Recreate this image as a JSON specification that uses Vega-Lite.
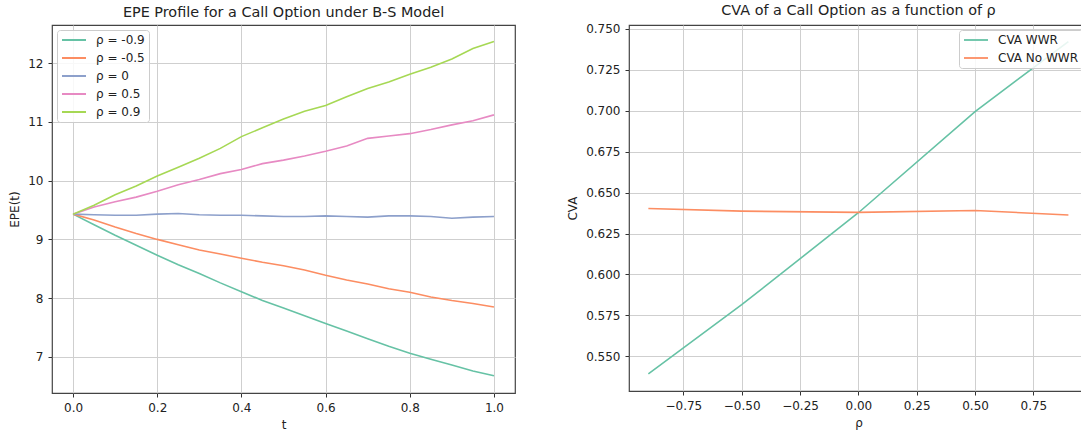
{
  "$schema": "https://vega.github.io/schema/vega-lite/v6.json",
  "padding": {"left": 8, "top": 1, "right": 0, "bottom": 0},
  "spacing": 50,
  "datasets": {
    "epe": [
      {"t": 0, "s": "ρ = -0.9", "v": 9.43}, {"t": 0.05, "s": "ρ = -0.9", "v": 9.25}, {"t": 0.1, "s": "ρ = -0.9", "v": 9.07}, {"t": 0.15, "s": "ρ = -0.9", "v": 8.9}, {"t": 0.2, "s": "ρ = -0.9", "v": 8.73}, {"t": 0.25, "s": "ρ = -0.9", "v": 8.57}, {"t": 0.3, "s": "ρ = -0.9", "v": 8.42}, {"t": 0.35, "s": "ρ = -0.9", "v": 8.26}, {"t": 0.4, "s": "ρ = -0.9", "v": 8.11}, {"t": 0.45, "s": "ρ = -0.9", "v": 7.96}, {"t": 0.5, "s": "ρ = -0.9", "v": 7.83}, {"t": 0.55, "s": "ρ = -0.9", "v": 7.7}, {"t": 0.6, "s": "ρ = -0.9", "v": 7.57}, {"t": 0.65, "s": "ρ = -0.9", "v": 7.44}, {"t": 0.7, "s": "ρ = -0.9", "v": 7.31}, {"t": 0.75, "s": "ρ = -0.9", "v": 7.18}, {"t": 0.8, "s": "ρ = -0.9", "v": 7.06}, {"t": 0.85, "s": "ρ = -0.9", "v": 6.96}, {"t": 0.9, "s": "ρ = -0.9", "v": 6.86}, {"t": 0.95, "s": "ρ = -0.9", "v": 6.76}, {"t": 1.0, "s": "ρ = -0.9", "v": 6.68},
      {"t": 0, "s": "ρ = -0.5", "v": 9.43}, {"t": 0.05, "s": "ρ = -0.5", "v": 9.33}, {"t": 0.1, "s": "ρ = -0.5", "v": 9.21}, {"t": 0.15, "s": "ρ = -0.5", "v": 9.1}, {"t": 0.2, "s": "ρ = -0.5", "v": 9.0}, {"t": 0.25, "s": "ρ = -0.5", "v": 8.91}, {"t": 0.3, "s": "ρ = -0.5", "v": 8.82}, {"t": 0.35, "s": "ρ = -0.5", "v": 8.75}, {"t": 0.4, "s": "ρ = -0.5", "v": 8.68}, {"t": 0.45, "s": "ρ = -0.5", "v": 8.61}, {"t": 0.5, "s": "ρ = -0.5", "v": 8.55}, {"t": 0.55, "s": "ρ = -0.5", "v": 8.48}, {"t": 0.6, "s": "ρ = -0.5", "v": 8.39}, {"t": 0.65, "s": "ρ = -0.5", "v": 8.31}, {"t": 0.7, "s": "ρ = -0.5", "v": 8.24}, {"t": 0.75, "s": "ρ = -0.5", "v": 8.16}, {"t": 0.8, "s": "ρ = -0.5", "v": 8.1}, {"t": 0.85, "s": "ρ = -0.5", "v": 8.02}, {"t": 0.9, "s": "ρ = -0.5", "v": 7.96}, {"t": 0.95, "s": "ρ = -0.5", "v": 7.91}, {"t": 1.0, "s": "ρ = -0.5", "v": 7.85},
      {"t": 0, "s": "ρ = 0", "v": 9.43}, {"t": 0.05, "s": "ρ = 0", "v": 9.42}, {"t": 0.1, "s": "ρ = 0", "v": 9.41}, {"t": 0.15, "s": "ρ = 0", "v": 9.41}, {"t": 0.2, "s": "ρ = 0", "v": 9.43}, {"t": 0.25, "s": "ρ = 0", "v": 9.44}, {"t": 0.3, "s": "ρ = 0", "v": 9.42}, {"t": 0.35, "s": "ρ = 0", "v": 9.41}, {"t": 0.4, "s": "ρ = 0", "v": 9.41}, {"t": 0.45, "s": "ρ = 0", "v": 9.4}, {"t": 0.5, "s": "ρ = 0", "v": 9.39}, {"t": 0.55, "s": "ρ = 0", "v": 9.39}, {"t": 0.6, "s": "ρ = 0", "v": 9.4}, {"t": 0.65, "s": "ρ = 0", "v": 9.39}, {"t": 0.7, "s": "ρ = 0", "v": 9.38}, {"t": 0.75, "s": "ρ = 0", "v": 9.4}, {"t": 0.8, "s": "ρ = 0", "v": 9.4}, {"t": 0.85, "s": "ρ = 0", "v": 9.39}, {"t": 0.9, "s": "ρ = 0", "v": 9.36}, {"t": 0.95, "s": "ρ = 0", "v": 9.38}, {"t": 1.0, "s": "ρ = 0", "v": 9.39},
      {"t": 0, "s": "ρ = 0.5", "v": 9.43}, {"t": 0.05, "s": "ρ = 0.5", "v": 9.55}, {"t": 0.1, "s": "ρ = 0.5", "v": 9.64}, {"t": 0.15, "s": "ρ = 0.5", "v": 9.72}, {"t": 0.2, "s": "ρ = 0.5", "v": 9.82}, {"t": 0.25, "s": "ρ = 0.5", "v": 9.93}, {"t": 0.3, "s": "ρ = 0.5", "v": 10.02}, {"t": 0.35, "s": "ρ = 0.5", "v": 10.12}, {"t": 0.4, "s": "ρ = 0.5", "v": 10.19}, {"t": 0.45, "s": "ρ = 0.5", "v": 10.29}, {"t": 0.5, "s": "ρ = 0.5", "v": 10.35}, {"t": 0.55, "s": "ρ = 0.5", "v": 10.42}, {"t": 0.6, "s": "ρ = 0.5", "v": 10.5}, {"t": 0.65, "s": "ρ = 0.5", "v": 10.59}, {"t": 0.7, "s": "ρ = 0.5", "v": 10.72}, {"t": 0.75, "s": "ρ = 0.5", "v": 10.76}, {"t": 0.8, "s": "ρ = 0.5", "v": 10.8}, {"t": 0.85, "s": "ρ = 0.5", "v": 10.87}, {"t": 0.9, "s": "ρ = 0.5", "v": 10.95}, {"t": 0.95, "s": "ρ = 0.5", "v": 11.02}, {"t": 1.0, "s": "ρ = 0.5", "v": 11.12},
      {"t": 0, "s": "ρ = 0.9", "v": 9.43}, {"t": 0.05, "s": "ρ = 0.9", "v": 9.58}, {"t": 0.1, "s": "ρ = 0.9", "v": 9.76}, {"t": 0.15, "s": "ρ = 0.9", "v": 9.91}, {"t": 0.2, "s": "ρ = 0.9", "v": 10.08}, {"t": 0.25, "s": "ρ = 0.9", "v": 10.23}, {"t": 0.3, "s": "ρ = 0.9", "v": 10.38}, {"t": 0.35, "s": "ρ = 0.9", "v": 10.55}, {"t": 0.4, "s": "ρ = 0.9", "v": 10.75}, {"t": 0.45, "s": "ρ = 0.9", "v": 10.9}, {"t": 0.5, "s": "ρ = 0.9", "v": 11.05}, {"t": 0.55, "s": "ρ = 0.9", "v": 11.18}, {"t": 0.6, "s": "ρ = 0.9", "v": 11.28}, {"t": 0.65, "s": "ρ = 0.9", "v": 11.43}, {"t": 0.7, "s": "ρ = 0.9", "v": 11.57}, {"t": 0.75, "s": "ρ = 0.9", "v": 11.68}, {"t": 0.8, "s": "ρ = 0.9", "v": 11.81}, {"t": 0.85, "s": "ρ = 0.9", "v": 11.93}, {"t": 0.9, "s": "ρ = 0.9", "v": 12.07}, {"t": 0.95, "s": "ρ = 0.9", "v": 12.25}, {"t": 1.0, "s": "ρ = 0.9", "v": 12.37}
    ],
    "cva": [
      {"rho": -0.9, "series": "CVA WWR", "cva": 0.5393}, {"rho": -0.5, "series": "CVA WWR", "cva": 0.5815}, {"rho": 0, "series": "CVA WWR", "cva": 0.6377}, {"rho": 0.5, "series": "CVA WWR", "cva": 0.6995}, {"rho": 0.9, "series": "CVA WWR", "cva": 0.7423},
      {"rho": -0.9, "series": "CVA No WWR", "cva": 0.6403}, {"rho": -0.5, "series": "CVA No WWR", "cva": 0.6387}, {"rho": 0, "series": "CVA No WWR", "cva": 0.6379}, {"rho": 0.5, "series": "CVA No WWR", "cva": 0.6391}, {"rho": 0.9, "series": "CVA No WWR", "cva": 0.6363}
    ]
  },
  "hconcat": [
    {
      "width": 463,
      "height": 368,
      "title": "EPE Profile for a Call Option under B-S Model",
      "data": {"name": "epe"},
      "mark": {"type": "line", "strokeWidth": 1.6},
      "encoding": {
        "x": {"field": "t", "type": "quantitative", "scale": {"domain": [-0.05, 1.05], "nice": false, "zero": false}, "axis": {"values": [0, 0.2, 0.4, 0.6, 0.8, 1], "format": ".1f", "title": "t"}},
        "y": {"field": "v", "type": "quantitative", "scale": {"domain": [6.385, 12.65], "nice": false, "zero": false}, "axis": {"values": [7, 8, 9, 10, 11, 12], "format": "d", "title": "EPE(t)"}},
        "color": {"field": "s", "type": "nominal", "scale": {"domain": ["ρ = -0.9", "ρ = -0.5", "ρ = 0", "ρ = 0.5", "ρ = 0.9"], "range": ["#66c2a5", "#fc8d62", "#8da0cb", "#e78ac3", "#a6d854"]}, "legend": {"orient": "top-left"}}
      }
    },
    {
      "width": 459,
      "height": 366,
      "title": "CVA of a Call Option as a function of ρ",
      "data": {"name": "cva"},
      "mark": {"type": "line", "strokeWidth": 1.6},
      "encoding": {
        "x": {"field": "rho", "type": "quantitative", "scale": {"domain": [-0.983, 0.984], "nice": false, "zero": false}, "axis": {"values": [-0.75, -0.5, -0.25, 0, 0.25, 0.5, 0.75], "format": ".2f", "title": "ρ"}},
        "y": {"field": "cva", "type": "quantitative", "scale": {"domain": [0.5288, 0.7524], "nice": false, "zero": false}, "axis": {"values": [0.55, 0.575, 0.6, 0.625, 0.65, 0.675, 0.7, 0.725, 0.75], "format": ".3f", "title": "CVA"}},
        "color": {"field": "series", "type": "nominal", "scale": {"domain": ["CVA WWR", "CVA No WWR"], "range": ["#66c2a5", "#fc8d62"]}, "legend": {"orient": "top-right"}}
      }
    }
  ],
  "resolve": {"scale": {"color": "independent"}, "legend": {"color": "independent"}},
  "config": {
    "font": "DejaVu Sans",
    "background": "white",
    "view": {"stroke": "#444444", "strokeWidth": 1.2},
    "axis": {
      "grid": true,
      "gridColor": "#cfcfcf",
      "gridWidth": 1,
      "domain": false,
      "tickColor": "#333333",
      "tickSize": 4,
      "tickWidth": 1,
      "labelFontSize": 12,
      "labelColor": "#222222",
      "labelPadding": 5,
      "titleFontSize": 12,
      "titleFontWeight": "normal",
      "titleColor": "#222222",
      "titlePadding": 6
    },
    "title": {"fontSize": 14.4, "fontWeight": "normal", "color": "#222222", "offset": 5},
    "legend": {
      "title": null,
      "fillColor": "rgba(255,255,255,0.85)",
      "strokeColor": "#cccccc",
      "cornerRadius": 3,
      "padding": 4,
      "offset": 5,
      "symbolType": "stroke",
      "symbolSize": 576,
      "symbolStrokeWidth": 1.8,
      "labelFontSize": 12,
      "labelColor": "#222222",
      "labelOffset": 9,
      "clipHeight": 12,
      "rowPadding": 6,
      "labelLimit": 200
    }
  }
}
